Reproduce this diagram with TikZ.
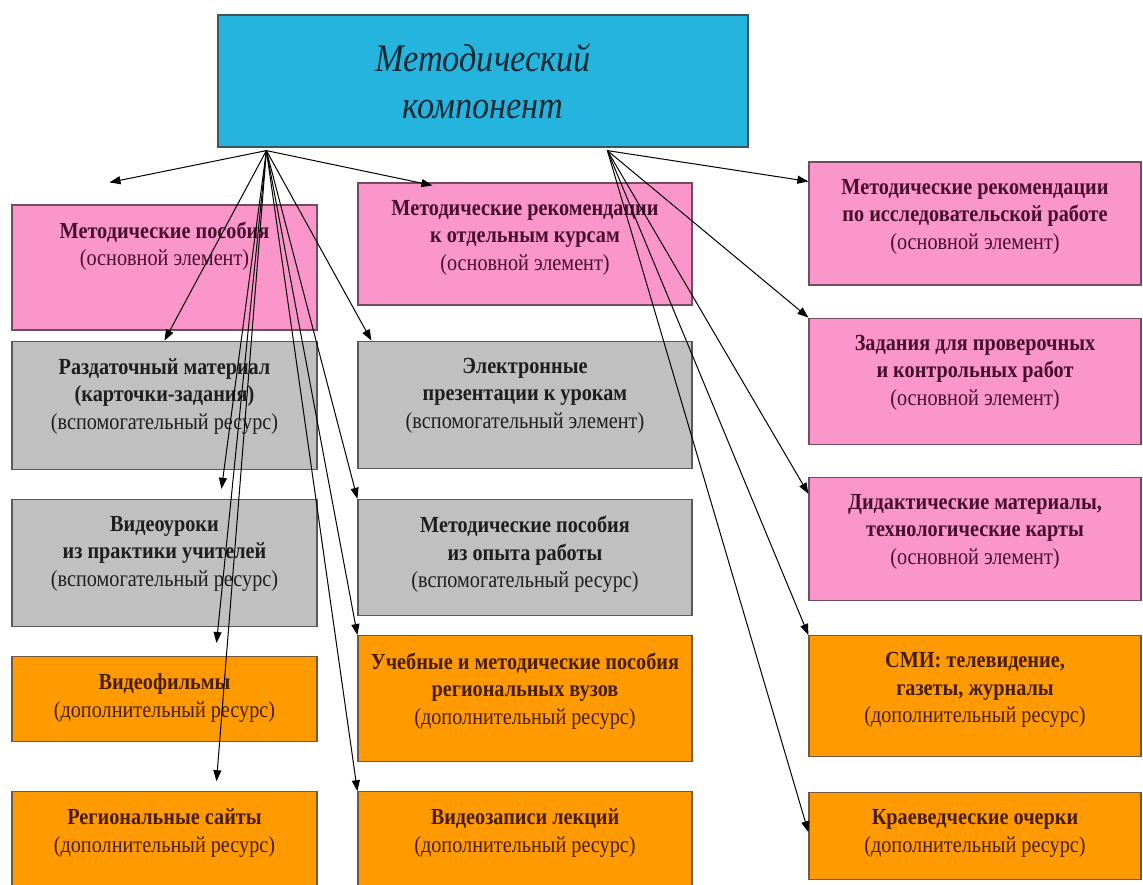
\documentclass[tikz,border=0pt]{standalone}
\usepackage{fontspec}
\setmainfont[FakeStretch=0.88]{Liberation Serif}
\usetikzlibrary{arrows.meta,positioning}
\definecolor{titlecyan}{RGB}{36,180,222}
\definecolor{cardpink}{RGB}{250,150,202}
\definecolor{cardgray}{RGB}{192,192,192}
\definecolor{cardorange}{RGB}{255,155,0}
\definecolor{titleink}{RGB}{15,40,50}
\definecolor{pinkink}{RGB}{70,15,45}
\definecolor{grayink}{RGB}{30,30,30}
\definecolor{orangeink}{RGB}{70,30,5}

\tikzset{
	card/.style 2 args={rectangle, inner sep=0pt, line width=1.2pt,
		execute at begin node={\begin{minipage}[c][#2][t]{#1}\centering\fontsize{23}{27.5}\selectfont\vspace*{17pt}},
		execute at end node={\end{minipage}}},
	pinkbox/.style={draw=pinkink!75, fill=cardpink, text=pinkink},
	graybox/.style={draw=black!65, fill=cardgray, text=grayink},
	orangebox/.style={draw=orangeink!75, fill=cardorange, text=orangeink},
}

\begin{document}
\begin{tikzpicture}[x=1pt, y=-1pt]
	\useasboundingbox (0,0) rectangle (1143,884);

	\node (title) [draw=titleink!80, fill=titlecyan, line width=1.2pt, minimum width=530pt, minimum height=132pt, align=center, text=titleink, font=\fontsize{39}{47}\selectfont\itshape] at (483,81) {Методический\\компонент};
	\coordinate (srcL) at ([xshift=49pt, yshift=-3pt]title.south west);
	\coordinate (srcR) at ([xshift=390pt, yshift=-3pt]title.south west);

	% left column
	\node[pinkbox, card={305pt}{125pt}] (lp) at (164.5,267.5) {\textbf{Методические пособия}\\(основной элемент)};
	\node[graybox, card={305pt}{128pt}, below=10pt of lp] (lg1) {\textbf{Раздаточный материал}\\\textbf{(карточки-задания)}\\(вспомогательный ресурс)};
	\node[graybox, card={305pt}{127pt}, below=29pt of lg1] (lg2) {\textbf{Видеоуроки}\\\textbf{из практики учителей}\\(вспомогательный ресурс)};
	\node[orangebox, card={305pt}{85pt}, below=29pt of lg2] (lo1) {\textbf{Видеофильмы}\\(дополнительный ресурс)};
	\node[orangebox, card={305pt}{97pt}, below=49pt of lo1] (lo2) {\textbf{Региональные сайты}\\(дополнительный ресурс)};

	% middle column
	\node[pinkbox, card={334pt}{122pt}] (mp) at (525,244) {\textbf{Методические рекомендации}\\\textbf{к отдельным курсам}\\(основной элемент)};
	\node[graybox, card={334pt}{127pt}, below=35pt of mp] (mg1) {\textbf{Электронные}\\\textbf{презентации к урокам}\\(вспомогательный элемент)};
	\node[graybox, card={334pt}{116pt}, below=30pt of mg1] (mg2) {\textbf{Методические пособия}\\\textbf{из опыта работы}\\(вспомогательный ресурс)};
	\node[orangebox, card={334pt}{126pt}, below=19pt of mg2] (mo1) {\textbf{Учебные и методические пособия}\\\textbf{региональных вузов}\\(дополнительный ресурс)};
	\node[orangebox, card={334pt}{95pt}, below=29pt of mo1] (mo2) {\textbf{Видеозаписи лекций}\\(дополнительный ресурс)};

	% right column
	\node[pinkbox, card={332pt}{123pt}] (rp1) at (975,223.5) {\textbf{Методические рекомендации}\\\textbf{по исследовательской работе}\\(основной элемент)};
	\node[pinkbox, card={332pt}{126pt}, below=32pt of rp1] (rp2) {\textbf{Задания для проверочных}\\\textbf{и контрольных работ}\\(основной элемент)};
	\node[pinkbox, card={332pt}{123pt}, below=32pt of rp2] (rp3) {\textbf{Дидактические материалы,}\\\textbf{технологические карты}\\(основной элемент)};
	\node[orangebox, card={332pt}{121pt}, below=34pt of rp3] (ro1) {\textbf{СМИ: телевидение,}\\\textbf{газеты, журналы}\\(дополнительный ресурс)};
	\node[orangebox, card={332pt}{87pt}, below=35pt of ro1] (ro2) {\textbf{Краеведческие очерки}\\(дополнительный ресурс)};

	% arrow ends
	\coordinate (tlp) at ([xshift=-55pt, yshift=22pt]lp.north);
	\coordinate (tlg2) at ([xshift=57pt, yshift=10pt]lg2.north);
	\coordinate (tlo1) at ([xshift=52pt, yshift=13pt]lo1.north);
	\coordinate (tlo2) at ([xshift=52pt, yshift=10pt]lo2.north);
	\coordinate (tmp) at ([xshift=75pt, yshift=-3pt]mp.north west);
	\coordinate (tmg1) at ([xshift=14pt]mg1.north west);
	\coordinate (trp1) at ([yshift=-20pt]rp1.north west);
	\coordinate (trp3) at ([yshift=-17pt]rp3.north west);
	\coordinate (tro2) at ([yshift=-40pt]ro2.north west);

	\foreach \t in {tlp, tmp, lg1.north, tmg1, tlg2, mg2.north west, tlo1, mo1.north west, tlo2, mo2.north west}
		\draw[-{Stealth[length=11pt, width=8pt, inset=0pt]}, line width=1pt] (srcL) -- (\t);
	\foreach \t in {trp1, rp2.north west, trp3, ro1.north west, tro2}
		\draw[-{Stealth[length=11pt, width=8pt, inset=0pt]}, line width=1pt] (srcR) -- (\t);

\end{tikzpicture}
\end{document}
